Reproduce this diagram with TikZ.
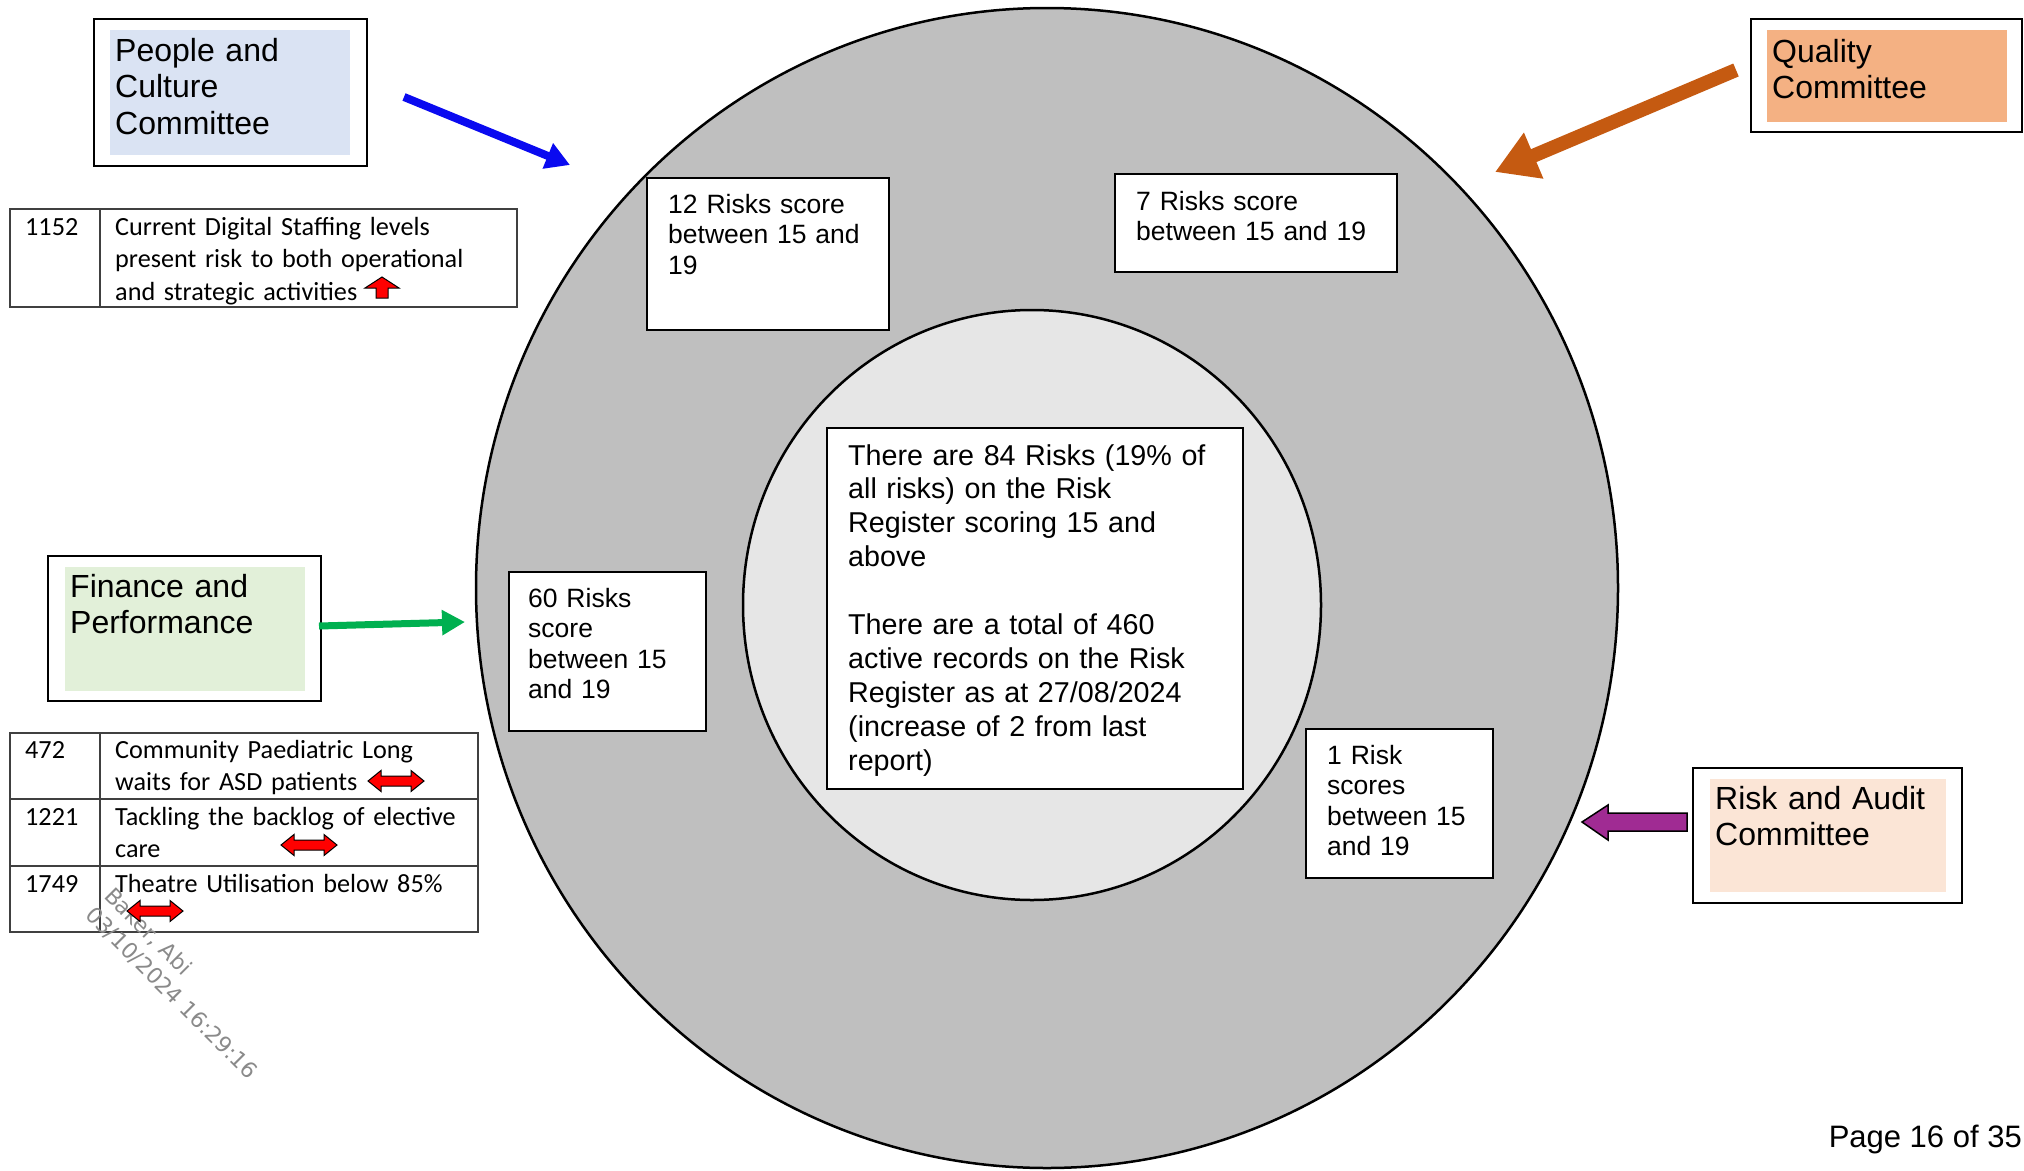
\documentclass[tikz,border=0pt]{standalone}
\usepackage{fontspec}
\setmainfont{Liberation Sans}
\newfontfamily\tablefont{Carlito}
\newfontfamily\stampfont{DejaVu Sans}
\usetikzlibrary{arrows.meta,fit}

\definecolor{ringgray}{HTML}{BFBFBF}
\definecolor{coregray}{HTML}{E6E6E6}
\definecolor{peoplefill}{HTML}{DAE3F3}
\definecolor{financefill}{HTML}{E2F0D9}
\definecolor{qualityfill}{HTML}{F4B183}
\definecolor{auditfill}{HTML}{FBE5D6}
\definecolor{peopleblue}{HTML}{0A0AF0}
\definecolor{financegreen}{HTML}{00B050}
\definecolor{qualityorange}{HTML}{C55A11}
\definecolor{auditpurple}{HTML}{A02B93}
\definecolor{tableline}{HTML}{404040}
\definecolor{stampgray}{HTML}{8A8A8A}

\begin{document}
\begin{tikzpicture}[x=1pt,y=-1pt,
  frame/.style={draw=black, line width=2.2pt, fill=white, inner sep=0pt},
  panel/.style={inner sep=0pt, draw=none},
  committee/.style={font=\fontsize{32}{36.5}\selectfont, anchor=base west, inner sep=0pt, text width=400pt, align=left},
  riskbox/.style={draw=black, line width=2pt, fill=white, inner sep=0pt},
  risktext/.style={font=\fontsize{26.5}{30.5}\selectfont, anchor=base west, inner sep=0pt, text width=400pt, align=left},
  coretext/.style={font=\fontsize{28.7}{33.9}\selectfont, anchor=base west, inner sep=0pt, text width=500pt, align=left},
  tbl/.style={draw=tableline, line width=1.4pt},
  tbltext/.style={font=\tablefont\fontsize{26.2}{32.5}\selectfont, anchor=base west, inner sep=0pt, text width=500pt, align=left},
  stamp/.style={font=\stampfont\fontsize{22}{22}\selectfont, text=stampgray, rotate=-45, anchor=base west, inner sep=0pt},
  redblock/.style={fill=red, draw=black, line width=1pt, line join=miter},
  dblarrow/.pic={\path[redblock] (-28,0) -- (-15,-10.5) -- (-15,-5) -- (15,-5) -- (15,-10.5) -- (28,0) -- (15,10.5) -- (15,5) -- (-15,5) -- (-15,10.5) -- cycle;}
]
% page and its extent
\useasboundingbox (0,0) rectangle (2024,1170);
\fill[white] (0,0) rectangle (2024,1170);

% the two rings
\draw[fill=ringgray, line width=2.5pt] (1047,588) ellipse [x radius=571pt, y radius=580pt];
\draw[fill=coregray, line width=2.5pt] (1032,605) ellipse [x radius=289pt, y radius=295pt];

% central summary
\node[riskbox, fit={(827,428) (1243,789)}] (corebox) {};
\node[coretext] (coretxt) at (848,465) {There are 84 Risks (19\% of\\all risks) on the Risk\\Register scoring 15 and\\above\\[33.9pt]There are a total of 460\\active records on the Risk\\Register as at 27/08/2024\\(increase of 2 from last\\report)};

% committee counts in the ring
\node[riskbox, fit={(647,178) (889,330)}] (pcbox) {};
\node[risktext] (pctxt) at (668,213) {12 Risks score\\between 15 and\\19};
\node[riskbox, fit={(1115,174) (1397,272)}] (qcbox) {};
\node[risktext] (qctxt) at (1136,210) {7 Risks score\\between 15 and 19};
\node[riskbox, fit={(509,572) (706,731)}] (fpbox) {};
\node[risktext] (fptxt) at (528,607) {60 Risks\\score\\between 15\\and 19};
\node[riskbox, fit={(1306,729) (1493,878)}] (rabox) {};
\node[risktext] (ratxt) at (1327,764) {1 Risk\\scores\\between 15\\and 19};

% People and Culture Committee
\node[frame, fit={(94,19) (367,166)}] (pcc) {};
\node[panel, fill=peoplefill, fit={(110,30) (350,155)}] (pccpanel) {};
\node[committee] (pcctxt) at (115,61) {People and\\Culture\\Committee};

% Finance and Performance
\node[frame, fit={(48,556) (321,701)}] (fpc) {};
\node[panel, fill=financefill, fit={(65,567) (305,691)}] (fpcpanel) {};
\node[committee] (fpctxt) at (70,597) {Finance and\\Performance};

% Quality Committee
\node[frame, fit={(1751,19) (2022,132)}] (qcc) {};
\node[panel, fill=qualityfill, fit={(1767,30) (2007,122)}] (qccpanel) {};
\node[committee] (qcctxt) at (1772,62) {Quality\\Committee};

% Risk and Audit Committee
\node[frame, fit={(1693,768) (1962,903)}] (rac) {};
\node[panel, fill=auditfill, fit={(1710,779) (1946,892)}] (racpanel) {};
\node[committee] (ractxt) at (1715,809) {Risk and Audit\\Committee};

% arrows from the committees towards the ring
\coordinate (pccTail) at (404,97);
\coordinate (pccTip) at (570,165);
\draw[peopleblue, line width=8pt, -{Triangle[length=24pt,width=26pt]}] (pccTail) -- (pccTip);

\coordinate (fpcTail) at (319,626);
\coordinate (fpcTip) at (465,622);
\draw[financegreen, line width=7pt, -{Triangle[length=23pt,width=24pt]}] (fpcTail) -- (fpcTip);

\coordinate (qccTail) at (1736,70);
\coordinate (qccTip) at (1495,172);
\draw[qualityorange, line width=14pt, -{Triangle[length=42pt,width=47pt]}] (qccTail) -- (qccTip);

\path[fill=auditpurple, draw=black, line width=1.5pt, line join=miter]
  (1582,822) -- (1608,805) -- (1608,813) -- (1687,813) -- (1687,831) -- (1608,831) -- (1608,840) -- cycle;

% digital staffing risk
\draw[tbl] (10,209) rectangle (517,307);
\draw[tbl] (100,209) -- (100,307);
\node[tbltext] (r1152id) at (25,235) {1152};
\node[tbltext] (r1152txt) at (115,235) {Current Digital Staffing levels\\present risk to both operational\\and strategic activities};
\path[redblock] (382,277) -- (399,288) -- (388,288) -- (388,298) -- (376,298) -- (376,288) -- (365,288) -- cycle;

% finance and performance risks
\draw[tbl] (10,733) rectangle (478,932);
\draw[tbl] (10,799) -- (478,799);
\draw[tbl] (10,866) -- (478,866);
\draw[tbl] (100,733) -- (100,932);
\node[tbltext] (r472id) at (25,758) {472};
\node[tbltext] (r472txt) at (115,758) {Community Paediatric Long\\waits for ASD patients};
\node[tbltext] (r1221id) at (25,825) {1221};
\node[tbltext] (r1221txt) at (115,825) {Tackling the backlog of elective\\care};
\node[tbltext] (r1749id) at (25,892) {1749};
\node[tbltext] (r1749txt) at (115,892) {Theatre Utilisation below 85\%};

% viewer stamp
\node[stamp] (stampname) at (103,897) {Baker, Abi};
\node[stamp] (stampdate) at (84,916) {03/10/2024 16:29:16};

\pic at (396,781) {dblarrow};
\pic at (309,845) {dblarrow};
\pic at (155,911) {dblarrow};

% page number
\node[font=\fontsize{31}{36}\selectfont, anchor=base east, inner sep=0pt] (pagenum) at (2022,1147) {Page 16 of 35};
\end{tikzpicture}
\end{document}
